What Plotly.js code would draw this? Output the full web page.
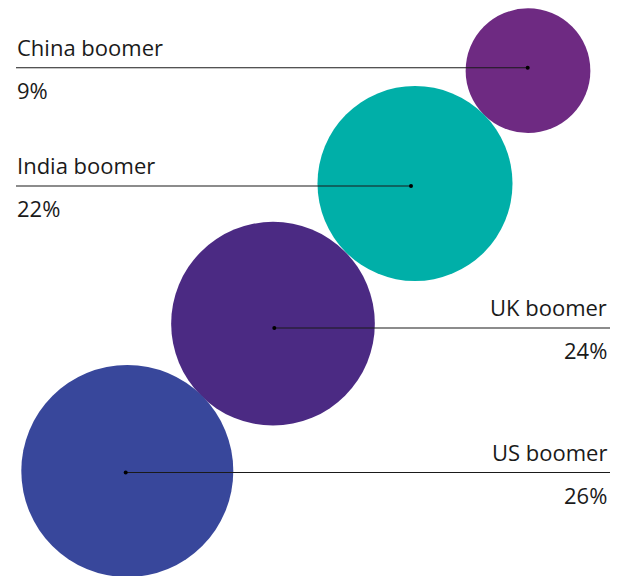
<!DOCTYPE html>
<html>
<head>
<meta charset="utf-8">
<script src="https://cdn.plot.ly/plotly-3.0.1.min.js"></script>
<style>html,body{margin:0;padding:0;background:#fff;}#chart{width:629px;height:576px;}</style>
</head>
<body>
<div id="chart"></div>
<script>
// ---- data ----
const regions = ['China boomer', 'India boomer', 'UK boomer', 'US boomer'];
const shares = [9, 22, 24, 26];
const shareLabels = ['9%', '22%', '24%', '26%'];
const colors = ['#6E2A82', '#00AFA8', '#4B2A83', '#38479B'];

// ---- layout positions (axis units = pixels of the 629x576 canvas) ----
const centerX = [528, 415, 273, 127.3];
const centerY = [70.7, 183.5, 323.7, 471];
const anchorX = [527.7, 411, 274.3, 125.7];
const anchorY = [67.7, 186, 328, 472.5];
const labelSide = ['left', 'left', 'right', 'right'];
const leftEdge = 16, rightEdge = 610;

const traces = [];
// circles, area proportional to share
traces.push({
  type: 'scatter', mode: 'markers',
  x: centerX, y: centerY,
  marker: {size: shares, sizemode: 'area', sizeref: 26 / (2 * 106 * 106), color: colors, opacity: 1, line: {width: 0}},
  hoverinfo: 'skip', showlegend: false
});
// leader lines
for (let i = 0; i < regions.length; i++) {
  const endX = labelSide[i] === 'left' ? leftEdge : rightEdge;
  traces.push({
    type: 'scatter', mode: 'lines',
    x: [endX, anchorX[i]], y: [anchorY[i], anchorY[i]],
    line: {color: '#1a1a1a', width: 1.1},
    hoverinfo: 'skip', showlegend: false
  });
}
// anchor dots
traces.push({
  type: 'scatter', mode: 'markers',
  x: anchorX, y: anchorY,
  marker: {size: 4, color: '#000', line: {width: 0}},
  hoverinfo: 'skip', showlegend: false
});

const font = {family: 'Open Sans', size: 22, color: '#1a1a1a'};
const annotations = [];
for (let i = 0; i < regions.length; i++) {
  const left = labelSide[i] === 'left';
  const tx = left ? leftEdge - 1 : rightEdge - 1;
  annotations.push({
    x: tx, y: anchorY[i] - 21, xref: 'x', yref: 'y',
    text: regions[i], showarrow: false, font: font,
    xanchor: left ? 'left' : 'right', yanchor: 'middle', align: left ? 'left' : 'right'
  });
  annotations.push({
    x: tx, y: anchorY[i] + 22, xref: 'x', yref: 'y',
    text: shareLabels[i], showarrow: false, font: font,
    xanchor: left ? 'left' : 'right', yanchor: 'middle', align: left ? 'left' : 'right'
  });
}

const layout = {
  width: 629, height: 576,
  margin: {l: 0, r: 0, t: 0, b: 0},
  paper_bgcolor: '#fff', plot_bgcolor: '#fff',
  xaxis: {range: [0, 629], visible: false, fixedrange: true},
  yaxis: {range: [576, 0], visible: false, fixedrange: true},
  annotations: annotations,
  showlegend: false
};

Plotly.newPlot('chart', traces, layout, {displayModeBar: false, staticPlot: true});
</script>
</body>
</html>
